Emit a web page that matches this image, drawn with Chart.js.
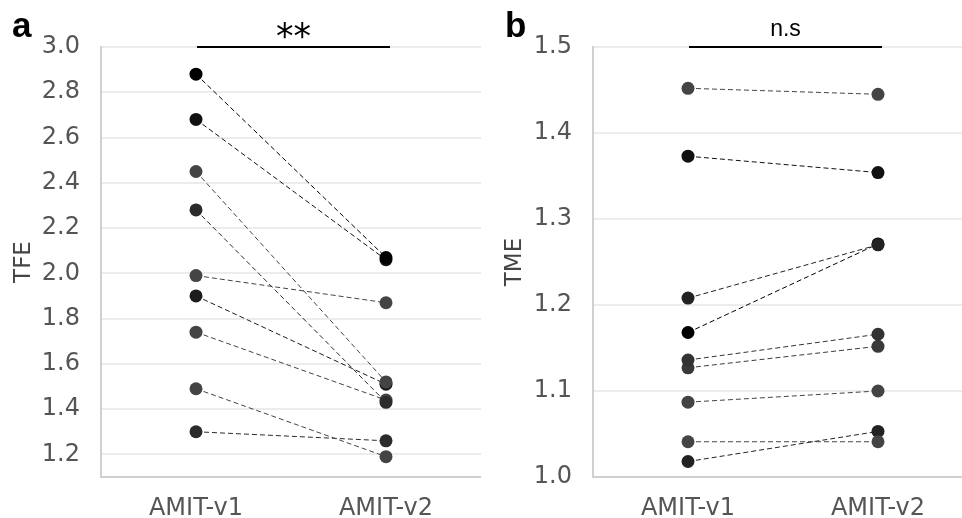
<!DOCTYPE html>
<html><head><meta charset="utf-8">
<script src="https://cdn.jsdelivr.net/npm/chart.js@4"></script>
<style>
html,body{margin:0;padding:0;background:#fff;overflow:hidden;width:962px;height:518px;}
#wrap{position:relative;width:962px;height:518px;overflow:hidden;background:#fff;}
#ca{position:absolute;left:0;top:0;}
#cb{position:absolute;left:481px;top:0;}
</style></head><body>
<div id="wrap"><canvas id="ca" width="481" height="518"></canvas><canvas id="cb" width="492" height="518"></canvas></div>
<script>
const categories = ['AMIT-v1', 'AMIT-v2'];

// Panel a: TFE
const tfeV1 = [2.88, 2.68, 2.45, 2.28, 1.99, 1.90, 1.74, 1.49, 1.30];
const tfeV2 = [2.07, 2.06, 1.52, 1.43, 1.87, 1.51, 1.44, 1.19, 1.26];
const tfeTicks = [1.2, 1.4, 1.6, 1.8, 2.0, 2.2, 2.4, 2.6, 2.8, 3.0];
const tfeColors = ['#000000', '#111111', '#444444', '#2b2b2b', '#444444', '#1c1c1c', '#444444', '#444444', '#2b2b2b'];

// Panel b: TME
const tmeV1 = [1.452, 1.373, 1.208, 1.168, 1.136, 1.127, 1.087, 1.041, 1.018];
const tmeV2 = [1.445, 1.354, 1.270, 1.271, 1.166, 1.152, 1.100, 1.041, 1.053];
const tmeTicks = [1.0, 1.1, 1.2, 1.3, 1.4, 1.5];
const tmeColors = ['#444444', '#111111', '#222222', '#000000', '#333333', '#3a3a3a', '#444444', '#444444', '#222222'];

const FONT = 'DejaVu Sans';

function makeDatasets(v1, v2, colors) {
  return v1.map((a, i) => ({
    data: [a, v2[i]],
    borderColor: colors[i],
    backgroundColor: colors[i],
    pointBackgroundColor: colors[i],
    pointBorderColor: colors[i],
    pointRadius: 6.5,
    pointBorderWidth: 0,
    borderWidth: 1,
    borderDash: [5, 3],
    tension: 0,
    clip: false
  }));
}

function sigPlugin(text, font, textY, letter, letterX) {
  return {
    id: 'sig',
    afterDraw(chart) {
      const ctx = chart.ctx, xs = chart.scales.x, top = chart.chartArea.top;
      const x0 = xs.getPixelForValue(0) + 1, x1 = xs.getPixelForValue(1) + 4;
      ctx.save();
      ctx.strokeStyle = '#000';
      ctx.lineWidth = 2;
      ctx.beginPath();
      ctx.moveTo(x0, top);
      ctx.lineTo(x1, top);
      ctx.stroke();
      ctx.fillStyle = '#000';
      ctx.font = font;
      ctx.textAlign = 'center';
      ctx.textBaseline = 'alphabetic';
      ctx.fillText(text, (x0 + x1) / 2, textY);
      ctx.font = 'bold 35px "Liberation Sans"';
      ctx.textAlign = 'left';
      ctx.fillText(letter, letterX, 37);
      ctx.restore();
    }
  };
}

function makeChart(canvas, v1, v2, colors, ticksArr, yMin, yMax, title, yWidth, titlePad, plugin) {
  return new Chart(canvas, {
    type: 'line',
    data: { labels: categories, datasets: makeDatasets(v1, v2, colors) },
    options: {
      responsive: false,
      animation: false,
      events: [],
      layout: { autoPadding: false, padding: { top: 47, left: 0, right: 0, bottom: 0 } },
      plugins: { legend: { display: false }, tooltip: { enabled: false } },
      scales: {
        x: {
          type: 'category',
          offset: true,
          afterFit: s => { s.height = 41; },
          grid: { display: false, drawTicks: false },
          border: { display: true, color: '#d0d0d0', width: 2 },
          ticks: { color: '#555', font: { family: FONT, size: 24 }, padding: 17 }
        },
        y: {
          min: yMin, max: yMax,
          afterBuildTicks: s => { s.ticks = ticksArr.map(v => ({ value: v })); },
          afterFit: s => { s.width = yWidth; },
          ticks: { color: '#555', font: { family: FONT, size: 24 }, padding: 21, callback: v => Number(v).toFixed(1) },
          grid: { color: '#ececec', lineWidth: 2, drawTicks: false },
          border: { color: '#d0d0d0', width: 2 },
          title: { display: true, text: title, color: '#444', font: { family: FONT, size: 23 }, padding: { top: titlePad, bottom: 0 } }
        }
      }
    },
    plugins: [plugin]
  });
}

makeChart(document.getElementById('ca'), tfeV1, tfeV2, tfeColors, tfeTicks, 1.1, 3.0, 'TFE', 101, 10,
  sigPlugin('**', '35px "DejaVu Sans"', 48, 'a', 12));
makeChart(document.getElementById('cb'), tmeV1, tmeV2, tmeColors, tmeTicks, 1.0, 1.5, 'TME', 112, 20,
  sigPlugin('n.s', '23px "Liberation Sans"', 36, 'b', 24));
</script>
</body></html>
